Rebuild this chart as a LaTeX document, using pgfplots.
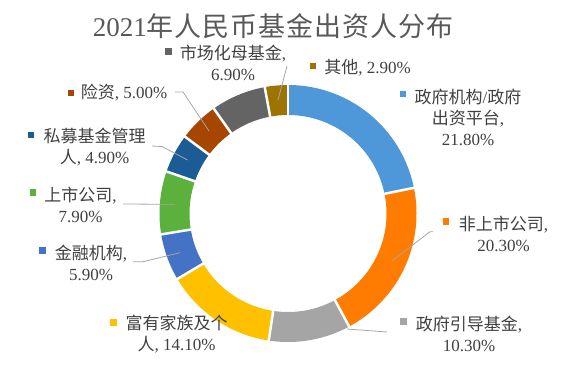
\documentclass[border=0pt]{standalone}
\usepackage{pgfplots}
\pgfplotsset{compat=1.18}
\usepackage{fontspec}
\setmainfont{Liberation Serif}
\newfontfamily\cjk{Noto Sans CJK SC}
\newfontfamily\cjkt[LetterSpace=3.5]{Noto Sans CJK SC}
\definecolor{c1}{HTML}{4E98DA}
\definecolor{c2}{HTML}{FF7C00}
\definecolor{c3}{HTML}{A5A5A5}
\definecolor{c4}{HTML}{FFC000}
\definecolor{c5}{HTML}{4472C4}
\definecolor{c6}{HTML}{5BB13C}
\definecolor{c7}{HTML}{1B5C96}
\definecolor{c8}{HTML}{A64600}
\definecolor{c9}{HTML}{646464}
\definecolor{c10}{HTML}{9E7400}
\definecolor{txt}{HTML}{404040}
\definecolor{ttl}{HTML}{595959}
\definecolor{lead}{HTML}{A6A6A6}
\newcommand{\sq}[1]{\textcolor{#1}{\rule{6.5pt}{6.5pt}}}
\begin{document}
\begin{tikzpicture}
\useasboundingbox (0,0) rectangle (577pt,368pt);
\begin{axis}[at={(0,0)}, anchor=south west, scale only axis, width=577pt, height=368pt,
  xmin=0, xmax=577, ymin=0, ymax=368, hide axis, clip=false, no markers]
% donut ring: cumulative shares (percent) 0,21.8,42.1,52.4,66.5,72.4,80.3,85.2,90.2,97.1,100
\addplot[line width=30pt, c1, domain=0:21.8, samples=80] ({288+113.5*cos(90-3.6*x)},{154.5+113.5*sin(90-3.6*x)});
\addplot[line width=30pt, c2, domain=21.8:42.1, samples=80] ({288+113.5*cos(90-3.6*x)},{154.5+113.5*sin(90-3.6*x)});
\addplot[line width=30pt, c3, domain=42.1:52.4, samples=50] ({288+113.5*cos(90-3.6*x)},{154.5+113.5*sin(90-3.6*x)});
\addplot[line width=30pt, c4, domain=52.4:66.5, samples=60] ({288+113.5*cos(90-3.6*x)},{154.5+113.5*sin(90-3.6*x)});
\addplot[line width=30pt, c5, domain=66.5:72.4, samples=30] ({288+113.5*cos(90-3.6*x)},{154.5+113.5*sin(90-3.6*x)});
\addplot[line width=30pt, c6, domain=72.4:80.3, samples=40] ({288+113.5*cos(90-3.6*x)},{154.5+113.5*sin(90-3.6*x)});
\addplot[line width=30pt, c7, domain=80.3:85.2, samples=30] ({288+113.5*cos(90-3.6*x)},{154.5+113.5*sin(90-3.6*x)});
\addplot[line width=30pt, c8, domain=85.2:90.2, samples=30] ({288+113.5*cos(90-3.6*x)},{154.5+113.5*sin(90-3.6*x)});
\addplot[line width=30pt, c9, domain=90.2:97.1, samples=30] ({288+113.5*cos(90-3.6*x)},{154.5+113.5*sin(90-3.6*x)});
\addplot[line width=30pt, c10, domain=97.1:100, samples=20] ({288+113.5*cos(90-3.6*x)},{154.5+113.5*sin(90-3.6*x)});
% white separators
\foreach \b in {0,21.8,42.1,52.4,66.5,72.4,80.3,85.2,90.2,97.1}{
  \edef\tmp{\noexpand\addplot[white, line width=2.5pt, domain=96:131, samples=2] ({288+x*cos(90-3.6*\b)},{154.5+x*sin(90-3.6*\b)});}\tmp
}
% leader lines
\addplot[lead, line width=0.8pt] coordinates {(278,268) (287,302)};
\addplot[lead, line width=0.8pt] coordinates {(175,276) (183,276) (209,237)};
\addplot[lead, line width=0.8pt] coordinates {(152,222) (162,221.5) (187.5,208)};
\addplot[lead, line width=0.8pt] coordinates {(123,164) (175,163.7)};
\addplot[lead, line width=0.8pt] coordinates {(133,106.3) (143,106.3) (180,115.3)};
\addplot[lead, line width=0.8pt] coordinates {(347,39) (387,36)};
\addplot[lead, line width=0.8pt] coordinates {(433,136.3) (430,136.3) (392,107)};
% title
\node[ttl, font=\fontsize{27}{30}\selectfont] at (273,342) {2021{\cjkt 年人民币基金出资人分布}};
% labels
\begin{scope}[every node/.style={txt, font=\fontsize{17}{21}\selectfont, align=center, inner sep=0pt}]
\node at (403,274) {\sq{c1}};
\node at (468,250.5) {{\cjk 政府机构}/{\cjk 政府}\\{\cjk 出资平台}, \\21.80\%};
\node at (446,146.3) {\sq{c2}};
\node at (503.5,134) {{\cjk 非上市公司}, \\20.30\%};
\node at (403.5,46.3) {\sq{c3}};
\node at (469,34) {{\cjk 政府引导基金}, \\10.30\%};
\node at (113.5,45.7) {\sq{c4}};
\node at (176.5,34) {{\cjk 富有家族及个}\\{\cjk 人}, 14.10\%};
\node at (42.5,117.3) {\sq{c5}};
\node at (91,105) {{\cjk 金融机构}, \\5.90\%};
\node at (33,175.7) {\sq{c6}};
\node at (80.5,163) {{\cjk 上市公司}, \\7.90\%};
\node at (31,233) {\sq{c7}};
\node at (94.5,220.5) {{\cjk 私募基金管理}\\{\cjk 人}, 4.90\%};
\node at (71,275) {\sq{c8}};
\node at (124,275) {{\cjk 险资}, 5.00\%};
\node at (168.5,316.3) {\sq{c9}};
\node at (233,305.5) {{\cjk 市场化母基金}, \\6.90\%};
\node at (313,302) {\sq{c10}};
\node at (367.5,300) {{\cjk 其他}, 2.90\%};
\end{scope}
\end{axis}
\end{tikzpicture}
\end{document}
